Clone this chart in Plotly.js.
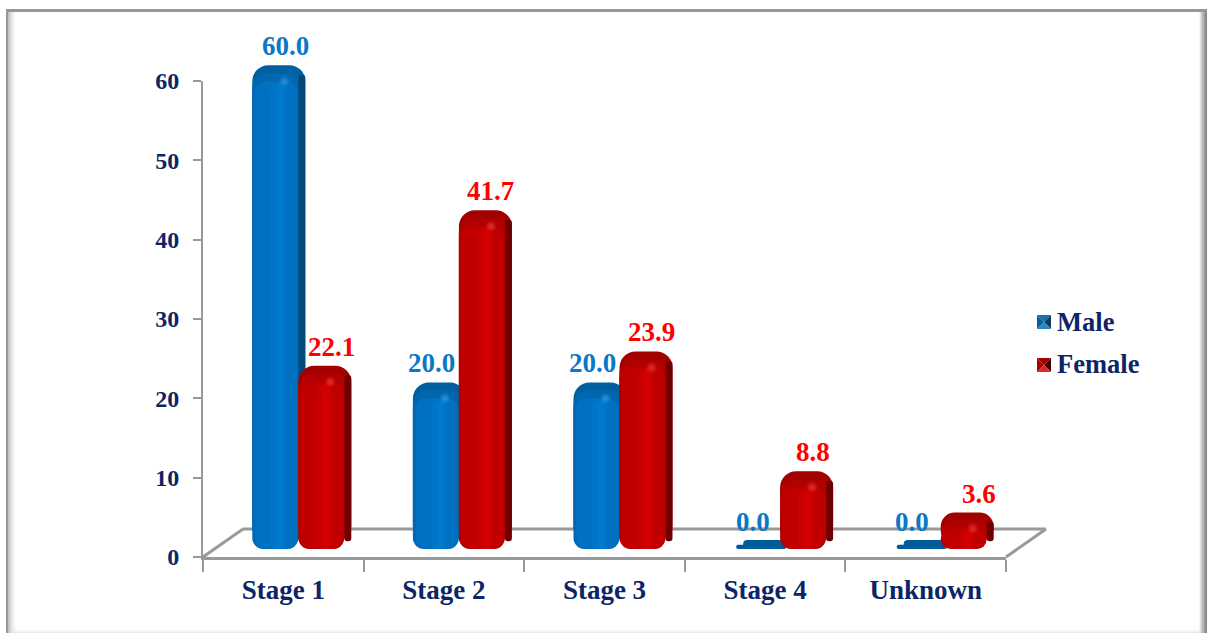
<!DOCTYPE html>
<html><head><meta charset="utf-8">
<script src="https://cdn.plot.ly/plotly-3.0.1.min.js"></script>
<style>
html,body{margin:0;padding:0;background:#fff;overflow:hidden}
#frame{position:absolute;left:6px;top:9px;width:1201px;height:624px;box-sizing:border-box;
 border-top:3px solid #979797;border-left:2px solid #979797;
 background:
  linear-gradient(to right,rgba(255,255,255,0) 0,#c4c4c4 3px,#7c7c7c 8px) right/8px 100% no-repeat,
  linear-gradient(to right,#bdbdbd 0,#e8e8e8 4px,rgba(255,255,255,0) 8px) left/8px 100% no-repeat,
  linear-gradient(to bottom,rgba(255,255,255,0) 0,#efefef 3px,#e4e4e4 100%) bottom/100% 4px no-repeat,#fff;}
#chart{position:absolute;left:0;top:0;width:1209px;height:633px}
</style></head><body>
<div id="frame"></div><div id="chart"></div>
<script>
const categories = ["Stage 1","Stage 2","Stage 3","Stage 4","Unknown"];
const male = [60.0,20.0,20.0,0.0,0.0];
const female = [22.1,41.7,23.9,8.8,3.6];
const yTicks = [0,10,20,30,40,50,60];

const navy='#0b2566', blueText='#0a78c8', redText='#ff0000';
const serif='"Liberation Serif","Times New Roman",serif';
const catW=160.6;           // px per category
const px=p=>p/catW;
const catIndex=categories.map((c,i)=>i);

function layers(vals,left,pal){
  const tr=[];
  const bar=(y,base,l,w,color,radius)=>tr.push({type:'bar',x:categories,y:y,base:base,yaxis:'y2',
    offset:px(l),width:px(w),marker:{color:color,cornerradius:radius,line:{width:0}},
    showlegend:false,hoverinfo:'skip',cliponaxis:false});
  // upper cap and side of the cylinder
  bar(vals,2,left,53,pal.cap,16);
  bar(vals.map(v=>v===0?0:v-1),2,left,50,pal.cap2,14);
  bar(vals.map(v=>Math.max(v-1.2,0)),2,left+46,7,pal.side,3);
  // flat disc for a zero value
  bar(vals.map(v=>v===0?0.55:null),1,left+2,50,pal.flat,4);
  bar(vals.map(v=>v===0?1.15:null),1,left+9,43,pal.flat,7);
  // front face with soft bands
  const f=vals.map(v=>Math.max(v-1,0));
  bar(f,1,left,46,pal.edge,11);
  bar(f,1,left+3,42,pal.face,10);
  bar(vals.map(v=>Math.max(v-1.3,0)),1,left+18,16,pal.band,6);
  bar(vals.map(v=>Math.max(v-1.3,0)),1,left+24,7,pal.band2,4);
  // highlight at the top
  const glow=(size,op)=>tr.push({type:'scatter',mode:'markers',x:catIndex.map(i=>i+px(left+32)),y:vals.map(v=>v===0?null:v),
    xaxis:'x2',yaxis:'y2',marker:{size:size,color:pal.glow,opacity:op,line:{width:0}},
    showlegend:false,hoverinfo:'skip',cliponaxis:false});
  glow(11,.15); glow(8,.2); glow(5,.3);
  return tr;
}
const bluePal={cap:'#00609f',cap2:'#0066ad',side:'#034a7c',flat:'#005c99',edge:'#0068b4',face:'#0070c0',band:'#0074c6',band2:'#007ad0',glow:'#3aa4f4'};
const redPal={cap:'#a30000',cap2:'#b00000',side:'#700000',flat:'#a30000',edge:'#b80000',face:'#c00000',band:'#c80000',band2:'#d20000',glow:'#ff4444'};
const maleLeft=-31, femaleLeft=15;

let traces=[...layers(male,maleLeft,bluePal),...layers(female,femaleLeft,redPal)];

// legend entries: real legend text, swatch drawn as a bevelled square below
traces.push({type:'scatter',mode:'markers',x:[null],y:[null],name:'Male',legendgroup:'m',
  marker:{symbol:'square',size:13,color:'rgba(0,0,0,0)'}});
traces.push({type:'scatter',mode:'markers',x:[null],y:[null],name:'Female',legendgroup:'f',
  marker:{symbol:'square',size:13,color:'rgba(0,0,0,0)'}});

const maleShift=[2,-12,-12,-12,-14], femaleShift=[48,47,47,48,53];
const lift=4.4;
const anns=[];
male.forEach((v,i)=>anns.push({x:i,y:v+lift,xref:'x',yref:'y2',xshift:maleShift[i],text:v.toFixed(1),showarrow:false,
  font:{family:serif,size:27,color:blueText,weight:'bold'}}));
female.forEach((v,i)=>anns.push({x:i,y:v+lift,xref:'x',yref:'y2',xshift:femaleShift[i],text:v.toFixed(1),showarrow:false,
  font:{family:serif,size:27,color:redText,weight:'bold'}}));

const W=803,H=527,axisH=476;
const pxPerUnit=axisH/60;
const grey='#999999';
const line=(a,b,c,d)=>({type:'line',xref:'paper',yref:'paper',x0:a/W,y0:b/H,x1:c/W,y1:d/H,line:{color:grey,width:3},layer:'below'});
// bevelled legend swatch, in pixels relative to the plot's lower left corner
function swatch(x0,top,size,cols){
  const X=p=>((x0-203+p)/W).toFixed(5), Y=p=>((557-top-p)/H).toFixed(5);
  const c=size/2;
  const tri=(a,b,d,e,col)=>({type:'path',xref:'paper',yref:'paper',layer:'above',fillcolor:col,line:{width:0},
    path:`M${X(a)},${Y(b)} L${X(d)},${Y(e)} L${X(c)},${Y(c)} Z`});
  return [tri(0,0,size,0,cols[0]),tri(size,0,size,size,cols[1]),tri(size,size,0,size,cols[2]),tri(0,size,0,0,cols[3])];
}
const layout={
  width:1209,height:633,margin:{l:203,r:203,t:30,b:76,pad:0},
  paper_bgcolor:'rgba(0,0,0,0)',plot_bgcolor:'rgba(0,0,0,0)',
  barmode:'overlay',showlegend:true,
  font:{family:serif,color:navy},
  xaxis:{type:'category',categoryorder:'array',categoryarray:categories,range:[-.5,4.5],tickson:'boundaries',
    ticks:'outside',ticklen:12,tickwidth:2,tickcolor:grey,showline:true,linecolor:grey,linewidth:3,
    showgrid:false,zeroline:false,tickfont:{family:serif,size:27,color:navy,weight:'bold'},ticklabelstandoff:7,fixedrange:true},
  xaxis2:{overlaying:'x',range:[-.5,4.5],visible:false,fixedrange:true,anchor:'y2'},
  yaxis:{domain:[0,axisH/H],range:[0,60],tickvals:yTicks,ticks:'outside',ticklen:8,tickwidth:2,tickcolor:grey,
    showline:true,linecolor:grey,linewidth:2,showgrid:false,zeroline:false,ticklabelstandoff:9,
    tickfont:{family:serif,size:24,color:navy,weight:'bold'},fixedrange:true},
  yaxis2:{domain:[0,1],range:[0,H/pxPerUnit],overlaying:false,visible:false,fixedrange:true,anchor:'x'},
  legend:{x:1.0137,xanchor:'left',y:0.4934,yanchor:'top',bgcolor:'rgba(0,0,0,0)',borderwidth:0,
    tracegroupgap:5,itemsizing:'trace',itemwidth:30,
    font:{family:serif,size:26.5,color:navy,weight:'bold'}},
  annotations:anns,
  shapes:[
    line(0,0,40,28),line(40,28,843,28),line(803,0,843,28),
    ...swatch(1037,315,14,['#1c6fa8','#0d3a60','#2e86c4','#0a5e9c']),
    ...swatch(1037,358,14,['#a00000','#480000','#e02828','#b00000'])
  ]
};
Plotly.newPlot('chart',traces,layout,{displayModeBar:false,staticPlot:true});
</script></body></html>
